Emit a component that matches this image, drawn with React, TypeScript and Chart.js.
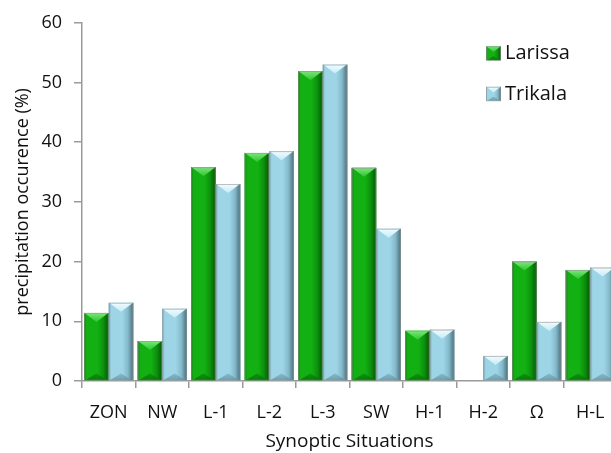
import { useEffect, useRef } from "react";
import { Chart, registerables } from "chart.js";

Chart.register(...registerables);

const categories = ["ZON", "NW", "L-1", "L-2", "L-3", "SW", "H-1", "H-2", "Ω", "H-L"];
const larissa = [11.4, 6.7, 35.8, 38.2, 51.9, 35.7, 8.4, 0, 20.0, 18.6];
const trikala = [13.1, 12.1, 33.0, 38.5, 53.0, 25.5, 8.6, 4.2, 9.9, 19.0];
const seriesNames = ["Larissa", "Trikala"];
const yMin = 0;
const yMax = 60;
const yStep = 10;
const xTitle = "Synoptic Situations";
const yTitle = "precipitation occurence (%)";

type Palette = { edge: string; main: string; mid: string; dark: string; top: string; topEnd: string; bottom: string };

const palettes: Palette[] = [
  { edge: "#0b7a0b", main: "#12b012", mid: "#0d900d", dark: "#055405", top: "#7ae87a", topEnd: "#2ec42e", bottom: "#076a07" },
  { edge: "#78abbc", main: "#9dd5e7", mid: "#84b9ca", dark: "#486e7a", top: "#f4fcff", topEnd: "#c2ecf8", bottom: "#628f9d" },
];

const FONT = "'Open Sans', 'DejaVu Sans', sans-serif";

function drawBevelBar(ctx: CanvasRenderingContext2D, l: number, r: number, t: number, b: number, p: Palette) {
  const w = r - l;
  const h = b - t;
  const xc = (l + r) / 2;
  const d = Math.min(9, h / 2, w / 2.6);
  ctx.save();
  const g = ctx.createLinearGradient(l, 0, r, 0);
  g.addColorStop(0, p.edge);
  g.addColorStop(0.1, p.main);
  g.addColorStop(0.55, p.main);
  g.addColorStop(0.78, p.mid);
  g.addColorStop(1, p.dark);
  ctx.fillStyle = g;
  ctx.fillRect(l, t, w, h);

  // top bevel (light chevron)
  const gt = ctx.createLinearGradient(0, t, 0, t + d);
  gt.addColorStop(0, p.top);
  gt.addColorStop(1, p.topEnd);
  ctx.beginPath();
  ctx.moveTo(l + 0.5, t);
  ctx.lineTo(r - 0.5, t);
  ctx.lineTo(xc, t + d);
  ctx.closePath();
  ctx.fillStyle = gt;
  ctx.fill();

  // bottom bevel (dark wedge)
  const gb = ctx.createLinearGradient(0, b, 0, b - d);
  gb.addColorStop(0, p.bottom);
  gb.addColorStop(1, p.mid);
  ctx.beginPath();
  ctx.moveTo(l + 1, b);
  ctx.lineTo(r - 1, b);
  ctx.lineTo(xc, b - d * 0.75);
  ctx.closePath();
  ctx.globalAlpha = 0.75;
  ctx.fillStyle = gb;
  ctx.fill();
  ctx.globalAlpha = 1;

  // outline
  ctx.strokeStyle = "rgba(150,150,150,0.6)";
  ctx.lineWidth = 1;
  ctx.strokeRect(l + 0.5, t + 0.5, w - 1, h - 0.5);
  ctx.restore();
}

const bevelPlugin = {
  id: "bevelBars",
  afterDatasetsDraw(chart: any) {
    const ctx: CanvasRenderingContext2D = chart.ctx;
    chart.data.datasets.forEach((_ds: any, di: number) => {
      const meta = chart.getDatasetMeta(di);
      const pal = palettes[di];
      meta.data.forEach((el: any) => {
        const { x, y, base, width } = el.getProps(["x", "y", "base", "width"], true);
        const l = x - width / 2;
        const r = x + width / 2;
        const t = Math.min(y, base);
        const b = Math.max(y, base);
        if (b - t < 0.5) return;
        drawBevelBar(ctx, l, r, t, b, pal);
      });
    });
  },
  afterDraw(chart: any) {
    const ctx: CanvasRenderingContext2D = chart.ctx;
    const area = chart.chartArea;
    const boxX = area.right - 131;
    const rows = [area.top + 30.5, area.top + 71];
    ctx.save();
    seriesNames.forEach((name, i) => {
      const cy = rows[i];
      drawBevelBar(ctx, boxX, boxX + 15, cy - 7, cy + 7, palettes[i]);
      ctx.fillStyle = "#111";
      ctx.font = `20px ${FONT}`;
      ctx.textBaseline = "middle";
      ctx.textAlign = "left";
      ctx.fillText(name, boxX + 19, cy);
    });
    ctx.restore();
  },
};

export default function App() {
  const ref = useRef<HTMLCanvasElement>(null);

  useEffect(() => {
    if (!ref.current) return;
    const axisColor = "#9a9a9a";
    const chart = new Chart(ref.current, {
      type: "bar",
      data: {
        labels: categories,
        datasets: [
          { label: seriesNames[0], data: larissa, backgroundColor: palettes[0].main, borderWidth: 0 },
          { label: seriesNames[1], data: trikala, backgroundColor: palettes[1].main, borderWidth: 0 },
        ],
      },
      options: {
        responsive: true,
        maintainAspectRatio: false,
        animation: false,
        events: [],
        layout: { padding: { top: 21, right: 3, left: 0, bottom: 0 } },
        datasets: { bar: { categoryPercentage: 0.92, barPercentage: 1 } },
        plugins: { legend: { display: false }, tooltip: { enabled: false } },
        scales: {
          x: {
            grid: {
              display: true,
              drawOnChartArea: false,
              drawTicks: true,
              tickLength: 7,
              color: axisColor,
              lineWidth: 1.5,
              offset: true,
            },
            border: { display: true, color: axisColor, width: 1.5 },
            ticks: { color: "#111", font: { family: FONT, size: 18 }, padding: 14 },
            title: {
              display: true,
              text: xTitle,
              color: "#111",
              font: { family: FONT, size: 19 },
              padding: { top: 0, bottom: 0 },
            },
            afterFit: (s: any) => {
              s.height = 72;
            },
          },
          y: {
            min: yMin,
            max: yMax,
            grid: {
              display: true,
              drawOnChartArea: false,
              drawTicks: true,
              tickLength: 8,
              color: axisColor,
              lineWidth: 1.5,
            },
            border: { display: true, color: axisColor, width: 1.5 },
            ticks: { stepSize: yStep, color: "#111", font: { family: FONT, size: 18 }, padding: 12 },
            title: {
              display: true,
              text: yTitle,
              color: "#111",
              font: { family: FONT, size: 18 },
              padding: { top: 12, bottom: 0 },
            },
            afterFit: (s: any) => {
              s.width = 82;
            },
          },
        },
      },
      plugins: [bevelPlugin],
    });
    return () => chart.destroy();
  }, []);

  return (
    <div
      style={{
        position: "fixed",
        left: 0,
        top: 0,
        width: 611,
        height: 453,
        overflow: "hidden",
        background: "#fff",
      }}
    >
      <div style={{ position: "relative", width: 620, height: 453 }}>
        <canvas ref={ref} />
      </div>
    </div>
  );
}
